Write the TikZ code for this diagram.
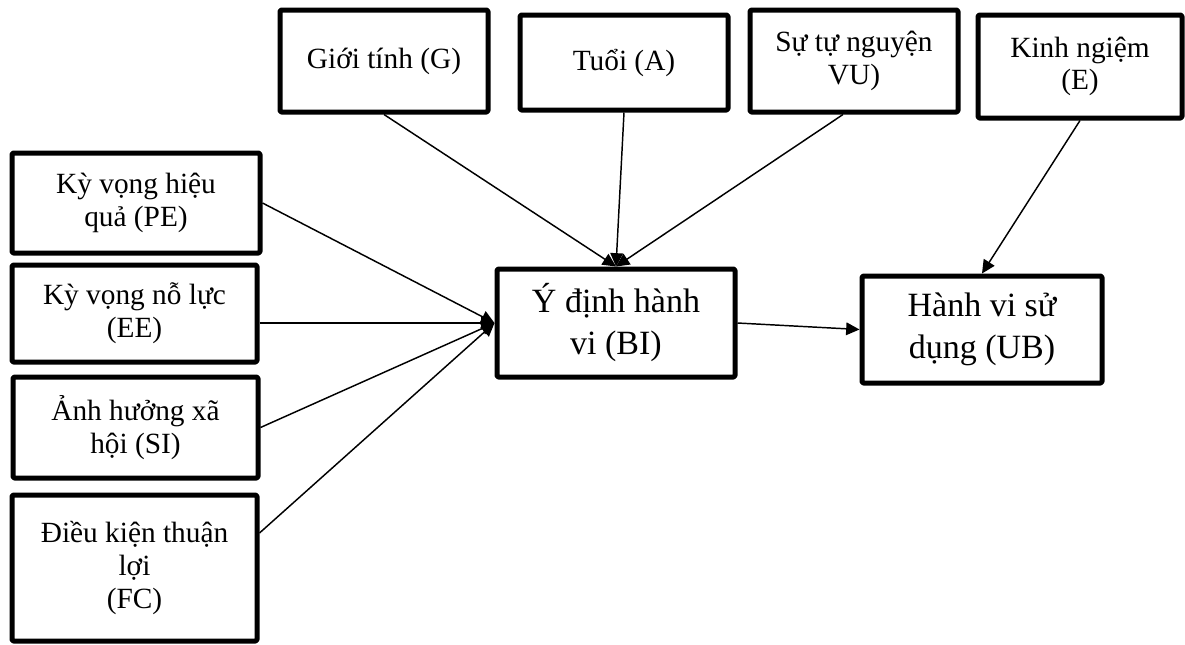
\documentclass[tikz,border=0pt]{standalone}
\usepackage{fontspec}
\setmainfont{Liberation Serif}
\usetikzlibrary{arrows.meta,calc}
\tikzset{
  box/.style={draw, line width=3.75pt, rounded corners=1pt, line join=round, align=center, inner sep=0pt,
    font=\fontsize{22}{24.5}\selectfont},
  bigbox/.style={box, font=\fontsize{25.5}{31.5}\selectfont},
  conn/.style={line width=1.1pt, -{Triangle[length=10pt,width=9.5pt]}}
}
\begin{document}
\begin{tikzpicture}[x=0.75pt,y=-0.75pt]
\useasboundingbox (0,0) rectangle (1185,644);
% top row
\node[box, minimum width=156pt, minimum height=76.5pt] (G) at (384,61) {Giới tính (G)};
\node[box, minimum width=156pt, minimum height=71.25pt] (A) at (624,62.5) {Tuổi (A)};
\node[box, minimum width=156pt, minimum height=76.5pt] (VU) at (854,61) {Sự tự nguyện\\VU)};
\node[box, minimum width=153pt, minimum height=77.25pt] (E) at (1080,66.5) {Kinh ngiệm\\(E)};
% left column
\node[box, minimum width=186pt, minimum height=75pt] (PE) at (136,203) {Kỳ vọng hiệu\\quả (PE)};
\node[box, minimum width=183.75pt, minimum height=72.75pt] (EE) at (134.5,313.5) {Kỳ vọng nỗ lực\\(EE)};
\node[box, minimum width=183.75pt, minimum height=75.75pt] (SI) at (135.5,427.5) {Ảnh hưởng xã\\hội (SI)};
\node[box, minimum width=183.75pt, minimum height=109.5pt] (FC) at (134.5,568) {Điều kiện thuận\\lợi\\(FC)};
% centre
\node[bigbox, minimum width=178.5pt, minimum height=81pt] (BI) at (616,323) {Ý định hành\\vi (BI)};
\node[bigbox, minimum width=180pt, minimum height=80.25pt] (UB) at (982,329.5) {Hành vi sử\\dụng (UB)};
% connectors
\draw[conn] (G.south) -- (BI.north);
\draw[conn] (A.south) -- (BI.north);
\draw[conn] ($(VU.south)+(-11,0)$) -- (BI.north);
\draw[conn] (PE.east) -- (BI.west);
\draw[conn] (BI.west -| EE.east) -- (BI.west);
\draw[conn] (SI.east) -- (BI.west);
\draw[conn] ($(FC.east)+(0,-35)$) -- (BI.west);
\draw[conn] (BI.east) -- (UB.west);
\draw[conn] (E.south) -- (UB.north);
\end{tikzpicture}
\end{document}
